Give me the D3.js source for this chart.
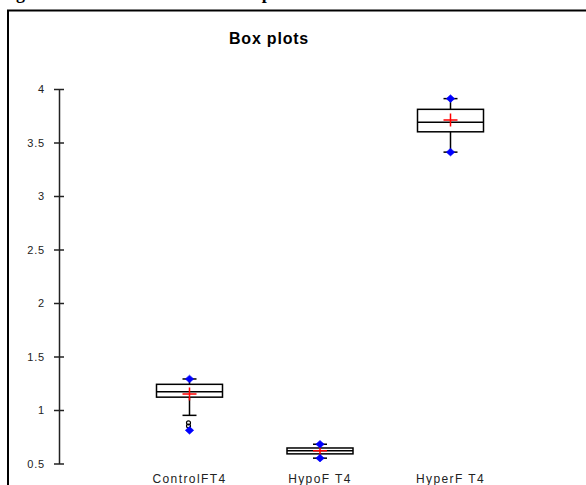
<!DOCTYPE html>
<html>
<head>
<meta charset="utf-8">
<script src="https://cdn.jsdelivr.net/npm/d3@7"></script>
<style>
  body { margin: 0; background: #fff; }
  svg { display: block; }
</style>
</head>
<body>
<script>
const width = 586;
const height = 485;

// chart data
const categories = ["ControlFT4", "HypoF T4", "HyperF T4"];
const minVals = [0.81, 0.55, 3.41];
const q1Vals = [1.12, 0.59, 3.60];
const medianVals = [1.17, 0.62, 3.69];
const q3Vals = [1.24, 0.645, 3.81];
const maxVals = [1.29, 0.68, 3.91];
const meanVals = [1.15, 0.62, 3.71];
const lowWhisker = [0.95, 0.55, 3.41];
const highWhisker = [1.29, 0.68, 3.91];
const outliers = [[0.88, 0.85], [], []];
const yTicks = [0.5, 1, 1.5, 2, 2.5, 3, 3.5, 4];

const rows = categories.map(function(c, i) {
  return {
    name: c, min: minVals[i], q1: q1Vals[i], median: medianVals[i], q3: q3Vals[i],
    max: maxVals[i], mean: meanVals[i], lo: lowWhisker[i], hi: highWhisker[i], out: outliers[i]
  };
});

const svg = d3.select("body")
  .append("svg")
  .attr("width", width)
  .attr("height", height);

// caption of the page, cut off at the top in the source
svg.append("text")
  .attr("x", 0)
  .attr("y", -1)
  .style("font-family", "'Liberation Serif', 'Times New Roman', serif")
  .style("font-weight", "bold")
  .style("font-size", "18px")
  .text("Figure 2: Distribution of FT4 box plots");

// frame
svg.append("path")
  .attr("d", "M8," + height + "V10.5H" + width)
  .attr("fill", "none")
  .attr("stroke", "#000")
  .attr("stroke-width", 2);

svg.append("text")
  .attr("x", 269)
  .attr("y", 44)
  .attr("text-anchor", "middle")
  .style("font-family", "'Liberation Sans', Arial, sans-serif")
  .style("font-weight", "bold")
  .style("font-size", "16px")
  .style("letter-spacing", "0.8px")
  .text("Box plots");

var x = d3.scalePoint()
  .domain(categories)
  .range([59, 581])
  .padding(1);

var y = d3.scaleLinear()
  .domain([0.5, 4])
  .range([463.5, 89]);

var yAxis = svg.append("g")
  .attr("transform", "translate(59,0)")
  .call(d3.axisLeft(y)
    .tickValues(yTicks)
    .tickFormat(d3.format(""))
    .tickSize(5)
    .tickSizeOuter(0)
    .tickPadding(9));

yAxis.select(".domain").attr("stroke", "#222").attr("stroke-width", 1.5);
yAxis.selectAll(".tick line").attr("x1", 5).attr("stroke", "#222").attr("stroke-width", 1.5);
yAxis.selectAll(".tick text")
  .attr("fill", "#222")
  .style("font-family", "'Liberation Sans', Arial, sans-serif")
  .style("font-size", "11px")
  .style("letter-spacing", "0.8px");

// category labels
svg.selectAll(".cat")
  .data(categories)
  .enter().append("text")
  .attr("class", "cat")
  .attr("x", function(d) { return x(d); })
  .attr("y", 483)
  .attr("text-anchor", "middle")
  .attr("fill", "#222")
  .style("font-family", "'Liberation Sans', Arial, sans-serif")
  .style("font-size", "12px")
  .style("letter-spacing", "1.4px")
  .text(function(d) { return d; });

var boxW = 66;
var capW = 14;

var g = svg.selectAll(".box")
  .data(rows)
  .enter().append("g")
  .attr("class", "box")
  .attr("transform", function(d) { return "translate(" + x(d.name) + ",0)"; });

// whiskers
g.append("line")
  .attr("y1", function(d) { return y(d.hi); })
  .attr("y2", function(d) { return y(d.lo); })
  .attr("stroke", "#000").attr("stroke-width", 1.5);
g.selectAll(".cap")
  .data(function(d) { return [d.lo, d.hi]; })
  .enter().append("line")
  .attr("class", "cap")
  .attr("x1", -capW / 2).attr("x2", capW / 2)
  .attr("y1", function(v) { return y(v); })
  .attr("y2", function(v) { return y(v); })
  .attr("stroke", "#000").attr("stroke-width", 1.5);

// box
g.append("rect")
  .attr("x", -boxW / 2)
  .attr("width", boxW)
  .attr("y", function(d) { return y(d.q3); })
  .attr("height", function(d) { return y(d.q1) - y(d.q3); })
  .attr("fill", "#fff")
  .attr("stroke", "#000")
  .attr("stroke-width", 1.5);

g.append("line")
  .attr("x1", -boxW / 2).attr("x2", boxW / 2)
  .attr("y1", function(d) { return y(d.median); })
  .attr("y2", function(d) { return y(d.median); })
  .attr("stroke", "#000").attr("stroke-width", 1.5);

// outliers
g.selectAll(".out")
  .data(function(d) { return d.out; })
  .enter().append("circle")
  .attr("class", "out")
  .attr("cx", -1)
  .attr("cy", function(v) { return y(v); })
  .attr("r", 2)
  .attr("fill", "none")
  .attr("stroke", "#000")
  .attr("stroke-width", 1.2);

// mean cross
g.append("path")
  .attr("d", function(d) {
    var m = y(d.mean);
    return "M-7," + m + "H7M0," + (m - 6.5) + "V" + (m + 6.5);
  })
  .attr("stroke", "#f00")
  .attr("stroke-width", 1.5)
  .attr("fill", "none");

// min / max points
g.selectAll(".ext")
  .data(function(d) { return [d.min, d.max]; })
  .enter().append("path")
  .attr("class", "ext")
  .attr("d", "M0,-3.8L4.2,0L0,3.8L-4.2,0Z")
  .attr("transform", function(v) { return "translate(0," + y(v) + ")"; })
  .attr("fill", "#00f")
  .attr("stroke", "#00f")
  .attr("stroke-width", 0.6)
  .attr("stroke-linejoin", "round");
</script>
</body>
</html>
